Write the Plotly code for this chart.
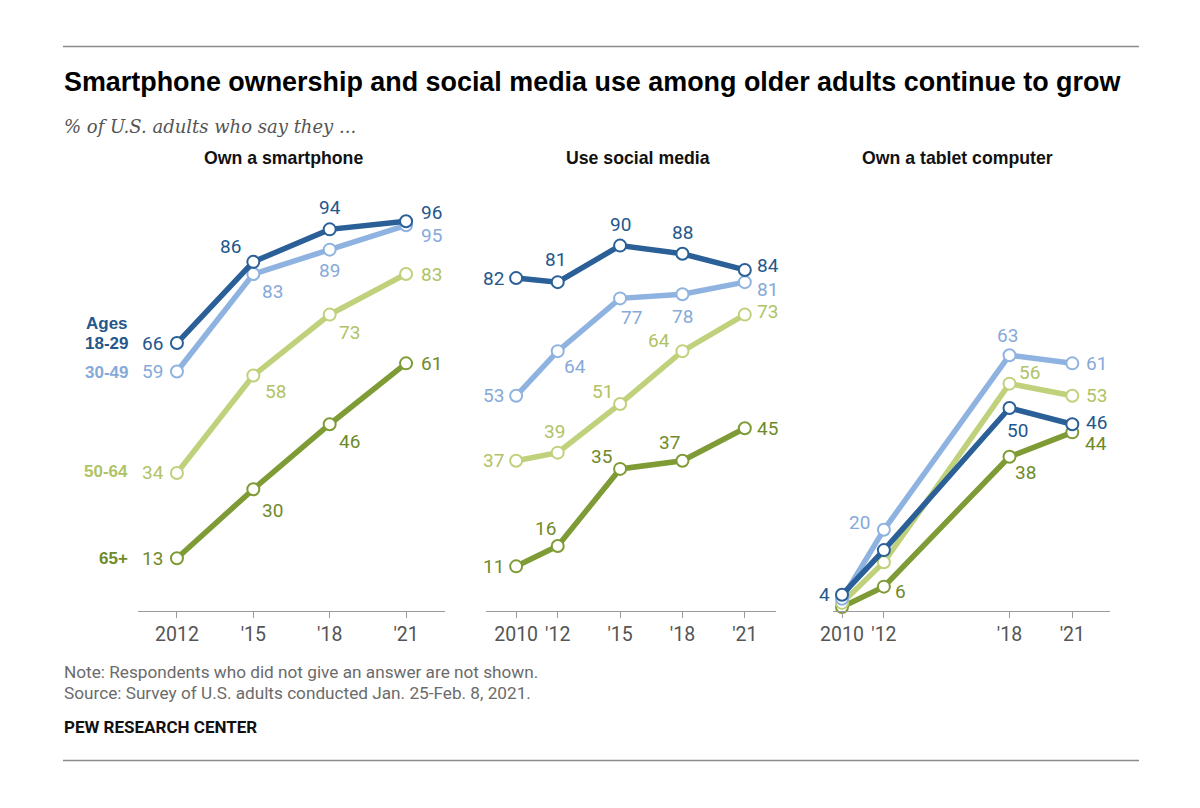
import plotly.graph_objects as go

W, H = 1200, 808

# ---------------- data ----------------
groups = ["18-29", "30-49", "50-64", "65+"]

smart_years = [2012, 2015, 2018, 2021]
smart_ticks = ["2012", "'15", "'18", "'21"]
smart_18_29 = [66, 86, 94, 96]
smart_30_49 = [59, 83, 89, 95]
smart_50_64 = [34, 58, 73, 83]
smart_65 = [13, 30, 46, 61]

social_years = [2010, 2012, 2015, 2018, 2021]
social_ticks = ["2010", "'12", "'15", "'18", "'21"]
social_18_29 = [82, 81, 90, 88, 84]
social_30_49 = [53, 64, 77, 78, 81]
social_50_64 = [37, 39, 51, 64, 73]
social_65 = [11, 16, 35, 37, 45]

tablet_years = [2010, 2012, 2018, 2021]
tablet_ticks = ["2010", "'12", "'18", "'21"]
tablet_18_29 = [4, 15, 50, 46]
tablet_30_49 = [3, 20, 63, 61]
tablet_50_64 = [2, 12, 56, 53]
tablet_65 = [1, 6, 38, 44]

# which points carry a value label in the tablet panel
tablet_show = {
    "18-29": [True, False, True, True],
    "30-49": [False, True, True, True],
    "50-64": [False, False, True, True],
    "65+": [False, True, True, True],
}

panel_titles = ["Own a smartphone", "Use social media", "Own a tablet computer"]

# ---------------- style ----------------
colors = {"18-29": "#2a5f97", "30-49": "#8fb3e1", "50-64": "#c0d17b", "65+": "#7f9b36"}
label_colors = {"18-29": "#24578c", "30-49": "#86aad9", "50-64": "#b0c366", "65+": "#6f8a2a"}
NUM_FONT = "Roboto, Liberation Sans, Arial"
BOLD_FONT = "Liberation Sans, Arial"


def px_x(p):
    return p / W


def px_y(p):
    return 1 - p / H


# label offsets (dx, dy in px; dy positive = down) per panel/series/point
offsets = {
    0: {
        "18-29": [(-24, 0), (-23, -15), (0, -22), (25, -9)],
        "30-49": [(-24, 0), (19, 17), (0, 21), (25, 10)],
        "50-64": [(-24, 0), (22, 16), (20, 18), (25, 0)],
        "65+": [(-24, 0), (19, 21), (20, 17), (25, 0)],
    },
    1: {
        "18-29": [(-23, 0), (-2, -23), (0, -21), (0, -21), (23, -4)],
        "30-49": [(-23, 0), (17, 15), (11, 19), (0, 22), (23, 7)],
        "50-64": [(-23, 0), (-3, -21), (-18, -12), (-23, -11), (23, -3)],
        "65+": [(-23, 0), (-12, -18), (-19, -12), (-13, -18), (23, 0)],
    },
    2: {
        "18-29": [(-18, 0), (0, 0), (8, 22), (24, -2)],
        "30-49": [(0, 0), (-24, -7), (-2, -20), (24, 0)],
        "50-64": [(0, 0), (0, 0), (20, -11), (24, 0)],
        "65+": [(0, 0), (17, 5), (16, 16), (24, 11)],
    },
}

panels = [
    (smart_years, smart_ticks, {"18-29": smart_18_29, "30-49": smart_30_49, "50-64": smart_50_64, "65+": smart_65}),
    (social_years, social_ticks, {"18-29": social_18_29, "30-49": social_30_49, "50-64": social_50_64, "65+": social_65}),
    (tablet_years, tablet_ticks, {"18-29": tablet_18_29, "30-49": tablet_30_49, "50-64": tablet_50_64, "65+": tablet_65}),
]

x_domains_px = [(138, 445), (486, 776), (833, 1110)]
x_ranges = [[2010.47, 2022.53], [2008.55, 2022.5], [2009.57, 2022.8]]
y_domain = [px_y(611), px_y(205)]
title_centers = [283, 638, 957]

fig = go.Figure()
annotations = []

for i, (years, ticks, series) in enumerate(panels):
    xa = "x" if i == 0 else f"x{i+1}"
    ya = "y" if i == 0 else f"y{i+1}"
    for g in reversed(groups):
        vals = series[g]
        fig.add_trace(go.Scatter(
            x=years, y=vals, xaxis=xa, yaxis=ya, mode="lines+markers",
            line=dict(color=colors[g], width=5.5),
            marker=dict(size=12, color="white", line=dict(color=colors[g], width=2)),
            cliponaxis=False, showlegend=False, hoverinfo="x+y",
        ))
        for j, (yr, v) in enumerate(zip(years, vals)):
            if i == 2 and not tablet_show[g][j]:
                continue
            dx, dy = offsets[i][g][j]
            annotations.append(dict(
                x=yr, y=v, xref=xa, yref=ya, text=str(v), showarrow=False,
                xanchor="center", yanchor="middle", xshift=dx, yshift=-dy,
                font=dict(family=NUM_FONT, size=19, color=label_colors[g]),
            ))
    axis_kw = dict(
        domain=[px_x(x_domains_px[i][0]), px_x(x_domains_px[i][1])],
        range=x_ranges[i], tickmode="array", tickvals=years, ticktext=ticks,
        showline=True, linecolor="#9a9a9a", linewidth=1, ticks="outside",
        ticklen=6, tickcolor="#9a9a9a", showgrid=False, zeroline=False,
        tickfont=dict(family=NUM_FONT, size=19.5, color="#555555"),
        anchor=ya, fixedrange=True, automargin=False,
    )
    fig.layout[("xaxis" if i == 0 else f"xaxis{i+1}")] = axis_kw
    fig.layout[("yaxis" if i == 0 else f"yaxis{i+1}")] = dict(
        domain=y_domain, range=[0, 100], visible=False, anchor=xa, fixedrange=True,
        automargin=False,
    )
    annotations.append(dict(
        x=px_x(title_centers[i]),
        y=px_y(158), xref="paper", yref="paper", text=f"<b>{panel_titles[i]}</b>",
        showarrow=False, xanchor="center", yanchor="middle",
        font=dict(family=BOLD_FONT, size=17.7, color="#111111"),
    ))

# Age legend at left of panel 1
legend_items = [("Ages", 323, "18-29"), ("18-29", 344, "18-29"), ("30-49", 372, "30-49"),
                ("50-64", 472, "50-64"), ("65+", 558, "65+")]
for txt, yy, g in legend_items:
    annotations.append(dict(
        x=px_x(130), y=px_y(yy), xref="paper", yref="paper", text=f"<b>{txt}</b>",
        showarrow=False, xanchor="right", yanchor="middle",
        font=dict(family=BOLD_FONT, size=17, color=label_colors[g]),
    ))

# Titles and notes
annotations += [
    dict(x=px_x(62), y=px_y(82), xref="paper", yref="paper",
         text="<b>Smartphone ownership and social media use among older adults continue to grow</b>",
         showarrow=False, xanchor="left", yanchor="middle",
         font=dict(family=BOLD_FONT, size=26.9, color="#000000")),
    dict(x=px_x(62), y=px_y(126), xref="paper", yref="paper",
         text="<i>% of U.S. adults who say they ...</i>",
         showarrow=False, xanchor="left", yanchor="middle",
         font=dict(family="DejaVu Serif, Liberation Serif, serif", size=18, color="#555555")),
    dict(x=px_x(62), y=px_y(672), xref="paper", yref="paper",
         text="Note: Respondents who did not give an answer are not shown.",
         showarrow=False, xanchor="left", yanchor="middle",
         font=dict(family=NUM_FONT, size=17.2, color="#6b6b6b")),
    dict(x=px_x(62), y=px_y(693), xref="paper", yref="paper",
         text="Source: Survey of U.S. adults conducted Jan. 25-Feb. 8, 2021.",
         showarrow=False, xanchor="left", yanchor="middle",
         font=dict(family=NUM_FONT, size=17.2, color="#6b6b6b")),
    dict(x=px_x(62), y=px_y(727), xref="paper", yref="paper",
         text="<b>PEW RESEARCH CENTER</b>",
         showarrow=False, xanchor="left", yanchor="middle",
         font=dict(family=NUM_FONT, size=17, color="#111111")),
]

shapes = [
    dict(type="line", xref="paper", yref="paper", x0=px_x(63), x1=px_x(1139),
         y0=px_y(46.5), y1=px_y(46.5), line=dict(color="#8c8c8c", width=1.5)),
    dict(type="line", xref="paper", yref="paper", x0=px_x(63), x1=px_x(1139),
         y0=px_y(760.5), y1=px_y(760.5), line=dict(color="#8c8c8c", width=1.5)),
]

fig.update_layout(
    width=W, height=H, margin=dict(l=0, r=0, t=0, b=0, autoexpand=False),
    paper_bgcolor="white", plot_bgcolor="white",
    annotations=annotations, shapes=shapes, showlegend=False,
)

fig.write_html(
    "out.html",
    config={"displayModeBar": False},
    post_script="document.body.style.margin='0';document.body.style.overflow='hidden';",
)
